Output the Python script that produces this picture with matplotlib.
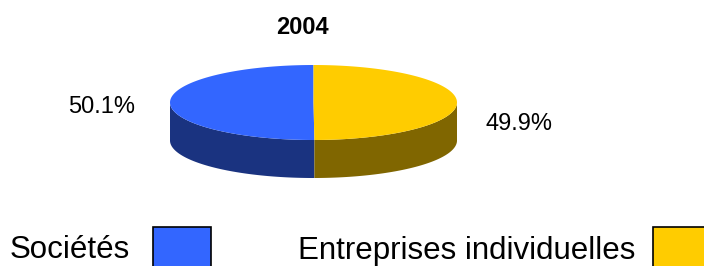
import numpy as np
import matplotlib.pyplot as plt
from matplotlib.patches import Polygon, Rectangle

plt.rcParams['font.family'] = ['Liberation Sans', 'DejaVu Sans']

title = "2004"
labels = ["Sociétés", "Entreprises individuelles"]
shares = [50.1, 49.9]
top_colors = ["#3366ff", "#ffcc00"]
side_colors = ["#1a3380", "#806600"]

# pie geometry in pixels (y grows downward)
cx, cy, a, b, depth = 313.5, 102.5, 143.5, 37.5, 38


def rim(t0, t1, n=200):
    t = np.radians(np.linspace(t0, t1, n))
    return cx + a * np.cos(t), cy - b * np.sin(t)


fig = plt.figure(figsize=(7.04, 2.66), dpi=100)
ax = fig.add_axes([0, 0, 1, 1])
ax.set_xlim(0, 704)
ax.set_ylim(266, 0)
ax.axis("off")

# slice angles: start at 12 o'clock, go counterclockwise
bounds = 90 + np.concatenate([[0], np.cumsum(shares)]) / sum(shares) * 360
slices = list(zip(bounds[:-1], bounds[1:]))

# side walls (only the front half is visible)
for (t0, t1), col in zip(slices, side_colors):
    s0, s1 = max(t0, 180), min(t1, 360)
    if s0 >= s1:
        continue
    x, y = rim(s0, s1)
    pts = np.vstack([np.column_stack([x, y]),
                     np.column_stack([x[::-1], y[::-1] + depth])])
    ax.add_patch(Polygon(pts, closed=True, facecolor=col, edgecolor="none"))

# top faces
for (t0, t1), col in zip(slices, top_colors):
    x, y = rim(t0, t1)
    pts = np.vstack([[cx, cy], np.column_stack([x, y])])
    ax.add_patch(Polygon(pts, closed=True, facecolor=col, edgecolor="none"))

ax.text(302, 28, title, ha="center", va="center", fontsize=17, fontweight="bold")
ax.text(102, 107, f"{shares[0]:.1f}%", ha="center", va="center", fontsize=17)
ax.text(519, 124, f"{shares[1]:.1f}%", ha="center", va="center", fontsize=17)

# legend
text_x = [10, 298]
box_x = [153, 653]
for lab, tx, bx, col in zip(labels, text_x, box_x, top_colors):
    ax.text(tx, 258.5, lab, ha="left", va="baseline", fontsize=22.5)
    ax.add_patch(Rectangle((bx, 227), 58, 50, facecolor=col,
                           edgecolor="black", linewidth=1.2, clip_on=True))

fig.savefig("out.png", dpi=100)
